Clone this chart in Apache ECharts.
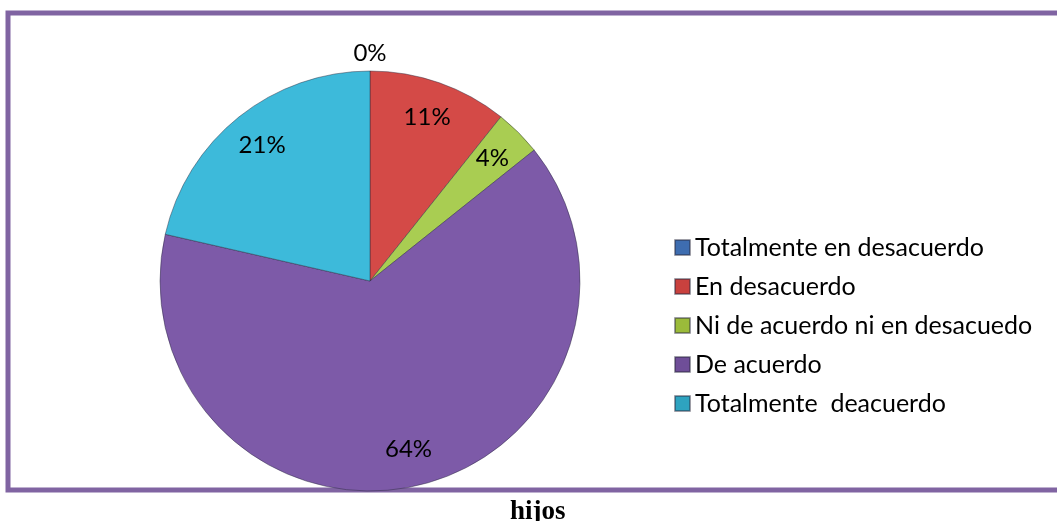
<!DOCTYPE html>
<html>
<head>
<meta charset="utf-8">
<script src="https://cdn.jsdelivr.net/npm/echarts@6/dist/echarts.min.js"></script>
<style>
  html, body { margin: 0; padding: 0; background: #fff; }
  #chart { width: 1057px; height: 521px; }
</style>
</head>
<body>
<div id="chart"></div>
<script>
var categories = [
  "Totalmente en desacuerdo",
  "En desacuerdo",
  "Ni de acuerdo ni en desacuedo",
  "De acuerdo",
  "Totalmente  deacuerdo"
];
var counts = [0, 3, 1, 18, 6];
var sliceColors = ["#4F81BD", "#D44A47", "#A9CD52", "#7D5AA8", "#3DBADA"];
var legendColors = ["#3E6DB0", "#C9413E", "#9BBB3A", "#6F4E98", "#2EA3C0"];
var title = "hijos";

var chart = echarts.init(document.getElementById("chart"), null, { renderer: "canvas" });

var pieData = categories.map(function (name, i) {
  return { name: name, value: counts[i], itemStyle: { color: sliceColors[i] } };
});
var labelData = categories.map(function (name, i) {
  var item = { name: name, value: counts[i] };
  if (counts[i] === 0) {
    // empty slice: label sits above the pie
    item.label = { position: "outside", distanceToLabelLine: 0 };
    item.labelLine = { show: false, length: 18, length2: 0 };
  }
  return item;
});

var option = {
  animation: false,
  graphic: [
    {
      type: "rect",
      shape: { x: 8, y: 13, width: 1120, height: 477 },
      style: { fill: "none", stroke: "#8064A2", lineWidth: 5 },
      z: 0
    }
  ],
  title: {
    text: title,
    left: 505,
    top: 494,
    textStyle: { fontFamily: "Liberation Serif", fontWeight: "bold", fontSize: 27, color: "#000" }
  },
  legend: {
    orient: "vertical",
    left: 669,
    top: 229,
    itemWidth: 15,
    itemHeight: 15,
    itemGap: 12,
    icon: "rect",
    selectedMode: false,
    textStyle: { fontFamily: "Lato", fontSize: 25, color: "#000", lineHeight: 27 },
    data: categories.map(function (name, i) {
      return { name: name, itemStyle: { color: legendColors[i] } };
    })
  },
  series: [
    {
      type: "pie",
      center: [370, 281],
      radius: [0, 210],
      startAngle: 90,
      clockwise: true,
      silent: true,
      label: { show: false },
      labelLine: { show: false },
      itemStyle: { borderColor: "rgba(40,40,60,0.45)", borderWidth: 1 },
      data: pieData
    },
    {
      type: "pie",
      center: [370, 281],
      radius: [130, 210],
      startAngle: 90,
      clockwise: true,
      silent: true,
      itemStyle: { color: "rgba(0,0,0,0)" },
      label: {
        show: true,
        position: "inside",
        fontFamily: "Lato",
        fontSize: 24,
        color: "#000",
        formatter: function (p) { return Math.round(p.percent) + "%"; }
      },
      labelLine: { show: false },
      labelLayout: function (params) {
        if (params.dataIndex === 0) {
          return { align: "center" };
        }
      },
      data: labelData
    }
  ]
};

chart.setOption(option);
</script>
</body>
</html>
